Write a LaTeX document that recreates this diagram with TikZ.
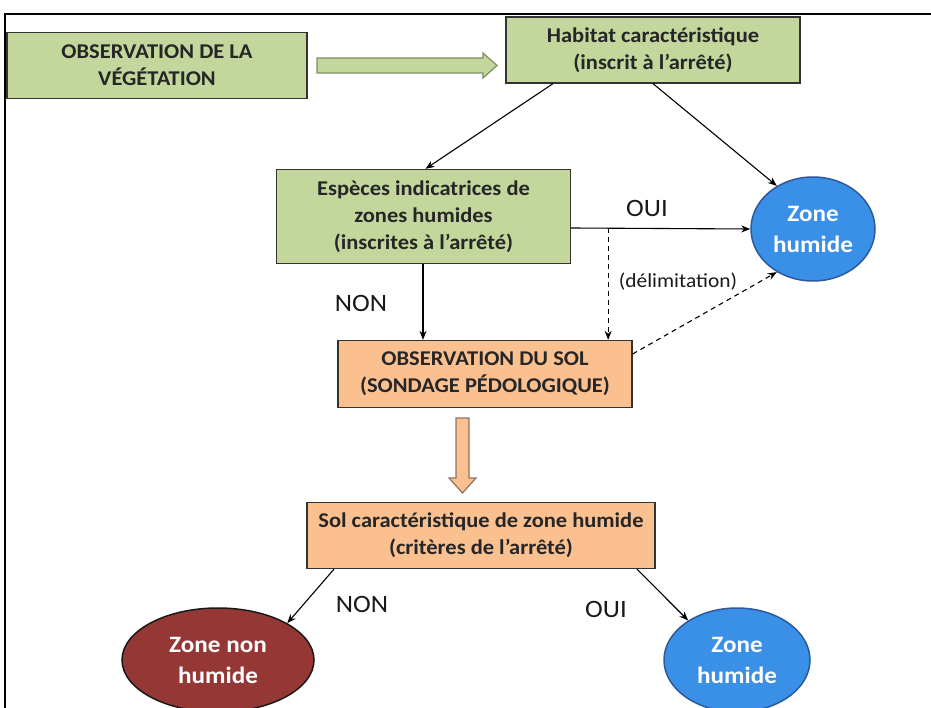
\documentclass[tikz,border=0pt]{standalone}
\usepackage{fontspec}
\setmainfont{Carlito}[FakeStretch=1.07]
\usetikzlibrary{shapes.geometric,arrows.meta}
\definecolor{vegfill}{HTML}{C3D69B}
\definecolor{vegline}{HTML}{7E8F63}
\definecolor{solfill}{HTML}{FAC090}
\definecolor{solline}{HTML}{8C7560}
\definecolor{zhfill}{HTML}{3A8FE6}
\definecolor{zhline}{HTML}{2C5A9C}
\definecolor{znhfill}{HTML}{953735}
\definecolor{txtgray}{HTML}{262626}
\begin{document}
\begin{tikzpicture}[x=1pt,y=-1pt,
    box/.style={draw=black!80,line width=1.3pt,text=txtgray,align=center,
      font=\bfseries\fontsize{21}{27}\selectfont,inner sep=0pt},
    zone/.style={ellipse,line width=1.5pt,text=white,align=center,
      font=\bfseries\fontsize{23.5}{31}\selectfont,inner sep=0pt},
    link/.style={line width=1.1pt,-{Stealth[length=9pt,width=7pt]}},
    dlink/.style={link,dashed,dash pattern=on 5pt off 4pt},
    rep/.style={font=\fontsize{25}{30}\selectfont,text=black!90},
    fat/.style={line width=1.2pt,line join=miter}]
    \useasboundingbox (0,0) rectangle (931,708);
    \draw[line width=1.6pt] (5,708) -- (5,14) -- (931,14);

    \node[box,fill=vegfill,minimum width=300pt,minimum height=66pt] (veg) at (157,65.5) {OBSERVATION DE LA\\VÉGÉTATION};
    \node[box,fill=vegfill,minimum width=294pt,minimum height=66pt] (hab) at (653,50) {Habitat caractéristique\\(inscrit à l’arrêté)};
    \node[box,fill=vegfill,minimum width=294pt,minimum height=94pt] (esp) at (423.5,216.5) {Espèces indicatrices de\\zones humides\\(inscrites à l’arrêté)};
    \node[box,fill=solfill,minimum width=294pt,minimum height=67pt] (sol) at (485,374) {OBSERVATION DU SOL\\(SONDAGE PÉDOLOGIQUE)};
    \node[box,fill=solfill,minimum width=348pt,minimum height=66pt] (crit) at (481,535.5) {Sol caractéristique de zone humide\\(critères de l’arrêté)};
    \node[zone,draw=zhline,fill=zhfill,minimum width=124pt,minimum height=104pt] (zh) at (813,229) {Zone\\humide};
    \node[zone,draw=black!90,fill=znhfill,minimum width=192pt,minimum height=104pt] (znh) at (218,660) {Zone non\\humide};
    \node[zone,draw=zhline,fill=zhfill,minimum width=146pt,minimum height=104pt] (zhb) at (737,660) {Zone\\humide};

    \draw[fat,draw=vegline,fill=vegfill] (317,58) -- (483,58) -- (483,53) -- (497,65.5) -- (483,78) -- (483,73) -- (317,73) -- cycle;
    \draw[fat,draw=solline,fill=solfill] (456,418) -- (456,478) -- (449,478) -- (462.5,493) -- (476,478) -- (469,478) -- (469,418) -- cycle;

    \draw[link] ([xshift=-100pt]hab.south) -- ([xshift=2pt]esp.north);
    \draw[link] (hab.south) -- (zh.130);
    \draw[link] ([yshift=-11.5pt]esp.east) -- (zh.west);
    \coordinate (dsplit) at ([xshift=37pt,yshift=-11.5pt]esp.east);
    \draw[dlink] (dsplit) -- (dsplit |- sol.north);
    \draw[dlink] ([yshift=20pt]sol.east) -- (zh.230);
    \draw[link] ([xshift=-0.5pt]esp.south) -- ([xshift=-0.5pt]esp.south |- sol.north);
    \draw[link] ([xshift=-147pt]crit.south) -- (znh.28);
    \draw[link] ([xshift=156pt]crit.south) -- (zhb.141);

    \node[rep] (oui1) at (647,208) {OUI};
    \node[rep] (non1) at (361,303) {NON};
    \node[font=\fontsize{20}{24}\selectfont,text=black!90] (delim) at (678,282) {(délimitation)};
    \node[rep] (non2) at (362,604) {NON};
    \node[rep] (oui2) at (606,609) {OUI};
\end{tikzpicture}
\end{document}
